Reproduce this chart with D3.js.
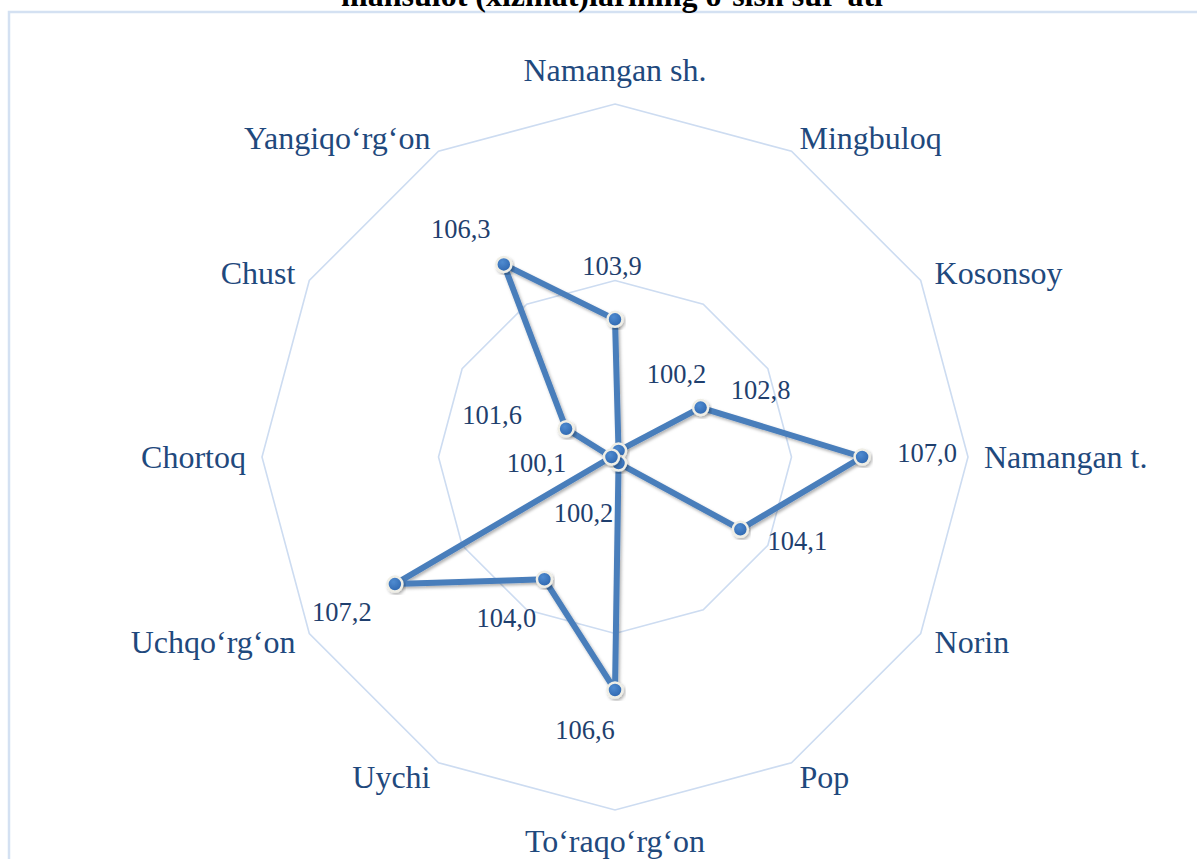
<!DOCTYPE html>
<html>
<head>
<meta charset="utf-8">
<script src="https://cdn.jsdelivr.net/npm/d3@7"></script>
<style>
  body { margin: 0; background: #fff; }
  svg { display: block; }
  text { font-family: 'Liberation Serif', 'Times New Roman', serif; }
</style>
</head>
<body>
<div id="chart"></div>
<script>
// districts clockwise from top
var categories = ["Namangan sh.", "Mingbuloq", "Kosonsoy", "Namangan t.", "Norin", "Pop",
  "To‘raqo‘rg‘on", "Uychi", "Uchqo‘rg‘on", "Chortoq", "Chust", "Yangiqo‘rg‘on"];
var values = [103.9, 100.2, 102.8, 107.0, 104.1, 100.2, 106.6, 104.0, 107.2, 100.1, 101.6, 106.3];
var ringTicks = [105, 110];
var title = "mahsulot (xizmat)larining o‘sish sur’ati";

// hand placed data labels (offset from the marker, px)
var labelOffsets = [[-3, -54], [58, -77], [60, -18], [65, -4], [57, 11], [-35, 50],
  [-30, 40], [-38, 38], [-53, 28], [-75, 6], [-74, -14], [-43, -36]];

var width = 1197, height = 859;
var cx = 615, cy = 457, R = 353;

var svg = d3.select('#chart').append('svg')
    .attr('width', width)
    .attr('height', height);

var defs = svg.append('defs');
var shadow = defs.append('filter').attr('id', 'shadow')
    .attr('x', '-20%').attr('y', '-20%').attr('width', '140%').attr('height', '140%');
shadow.append('feDropShadow')
    .attr('dx', 1.5).attr('dy', 2).attr('stdDeviation', 1.5)
    .attr('flood-color', '#000').attr('flood-opacity', 0.3);
var grad = defs.append('radialGradient').attr('id', 'dot')
    .attr('cx', '40%').attr('cy', '35%').attr('r', '70%');
grad.append('stop').attr('offset', '0%').attr('stop-color', '#4f8bd0');
grad.append('stop').attr('offset', '100%').attr('stop-color', '#2c64ad');

// chart area border (runs off the picture to right and bottom)
svg.append('path')
    .attr('d', 'M9,' + height + ' V12 H' + width)
    .attr('fill', 'none')
    .attr('stroke', '#d4e1f2')
    .attr('stroke-width', 2.5);

svg.append('text')
    .attr('x', 612)
    .attr('y', 6)
    .attr('text-anchor', 'middle')
    .style('font-weight', 'bold')
    .style('font-size', '32px')
    .attr('fill', '#000')
    .text(title);

var r = d3.scaleLinear().domain([100, 110]).range([0, R]);
var angle = d3.scalePoint().domain(categories).range([0, 2 * Math.PI * (categories.length - 1) / categories.length]);

function px(cat, v) { return cx + r(v) * Math.sin(angle(cat)); }
function py(cat, v) { return cy - r(v) * Math.cos(angle(cat)); }

var g = svg.append('g');

// rings
g.selectAll('.ring')
  .data(ringTicks)
  .join('polygon')
    .attr('class', 'ring')
    .attr('points', function(t) {
      return categories.map(function(c) { return px(c, t) + ',' + py(c, t); }).join(' ');
    })
    .attr('fill', 'none')
    .attr('stroke', '#cddcf1')
    .attr('stroke-width', 1.6);

// category labels
var labelR = R + 16;
g.selectAll('.cat')
  .data(categories)
  .join('text')
    .attr('class', 'cat')
    .attr('x', function(c) { return cx + labelR * Math.sin(angle(c)); })
    .attr('y', function(c) {
      var co = Math.cos(angle(c));
      var y = cy - labelR * co;
      if (co > 0.99) return y - 7;
      if (co < -0.99) return y + 26;
      return y;
    })
    .attr('dy', function(c) { return Math.abs(Math.cos(angle(c))) > 0.99 ? 0 : '0.35em'; })
    .attr('text-anchor', function(c) {
      var s = Math.sin(angle(c));
      return s > 0.01 ? 'start' : (s < -0.01 ? 'end' : 'middle');
    })
    .style('font-size', '32px')
    .attr('fill', '#1f497d')
    .text(function(c) { return c; });

var pts = categories.map(function(c, i) { return [px(c, values[i]), py(c, values[i])]; });

g.append('path')
    .datum(pts)
    .attr('d', function(d) { return d3.line().curve(d3.curveLinearClosed)(d); })
    .attr('fill', 'none')
    .attr('stroke', '#4a7ebb')
    .attr('stroke-width', 6)
    .attr('stroke-linejoin', 'round')
    .attr('filter', 'url(#shadow)');

g.selectAll('.dot')
  .data(pts)
  .join('circle')
    .attr('class', 'dot')
    .attr('cx', function(d) { return d[0]; })
    .attr('cy', function(d) { return d[1]; })
    .attr('r', 7.5)
    .attr('fill', 'url(#dot)')
    .attr('stroke', '#efeee6')
    .attr('stroke-width', 2.5)
    .attr('filter', 'url(#shadow)');

g.selectAll('.val')
  .data(values)
  .join('text')
    .attr('class', 'val')
    .attr('x', function(v, i) { return pts[i][0] + labelOffsets[i][0]; })
    .attr('y', function(v, i) { return pts[i][1] + labelOffsets[i][1]; })
    .attr('dy', '0.35em')
    .attr('text-anchor', 'middle')
    .style('font-size', '26.5px')
    .attr('fill', '#1f3f6e')
    .text(function(v) { return d3.format('.1f')(v).replace('.', ','); });
</script>
</body>
</html>
